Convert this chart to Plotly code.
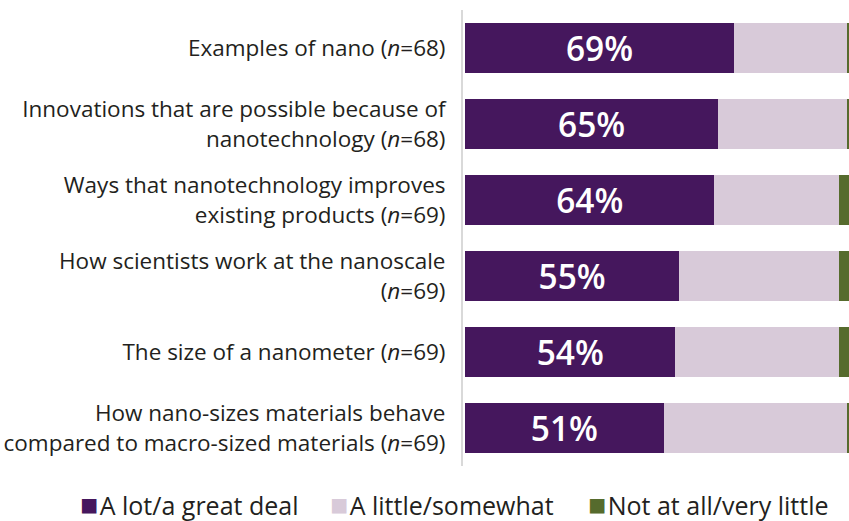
import plotly.graph_objects as go

# Survey topics, top to bottom
topics = [
    "Examples of nano (<i>n</i>=68)",
    "Innovations that are possible because of<br>nanotechnology (<i>n</i>=68)",
    "Ways that nanotechnology improves<br>existing products (<i>n</i>=69)",
    "How scientists work at the nanoscale<br>(<i>n</i>=69)",
    "The size of a nanometer (<i>n</i>=69)",
    "How nano-sizes materials behave<br>compared to macro-sized materials (<i>n</i>=69)",
]
a_lot = [69, 65, 64, 55, 54, 51]
a_little = [29, 33, 32, 41, 42, 47]
not_at_all = [2, 2, 4, 4, 4, 2]

series_names = ["A lot/a great deal", "A little/somewhat", "Not at all/very little"]
series_values = [a_lot, a_little, not_at_all]
series_colors = ["#45175d", "#d8cad9", "#566b2d"]

FONT = "Open Sans"
TEXT = "#231f20"

W, H = 849, 521
ML, MR, MT, MB = 463, 0, 10, 55

fig = go.Figure()
for i, (name, vals, color) in enumerate(zip(series_names, series_values, series_colors)):
    labelled = i == 0
    fig.add_trace(go.Bar(
        y=topics,
        x=vals,
        name=name,
        orientation="h",
        marker=dict(color=color, line=dict(width=0)),
        text=[f"{v}%" for v in vals] if labelled else None,
        textposition="inside" if labelled else "none",
        insidetextanchor="middle",
        textfont=dict(color="white", size=35, family=FONT, weight=600),
        hoverinfo="skip",
        showlegend=False,
    ))

# Legend row: coloured square followed by the series name
legend_x = [78, 328, 586]
plot_w = W - ML - MR
plot_h = H - MT - MB
for name, color, px in zip(series_names, series_colors, legend_x):
    fig.add_annotation(
        xref="paper", yref="paper",
        x=(px - ML) / plot_w, y=-(504 - (H - MB)) / plot_h,
        xanchor="left", yanchor="middle",
        showarrow=False,
        text=(f"<span style='color:{color};font-size:30px'>■</span>"
              f"<span style='font-size:6px'> </span>{name}"),
        font=dict(family=FONT, size=25, color=TEXT),
    )

fig.update_layout(
    barmode="stack",
    bargap=0.33,
    width=W,
    height=H,
    margin=dict(l=ML, r=MR, t=MT, b=MB, autoexpand=False),
    paper_bgcolor="white",
    plot_bgcolor="white",
    font=dict(family=FONT, size=22.5, color=TEXT),
    showlegend=False,
)
fig.update_xaxes(range=[-0.5, 98.5], visible=False, fixedrange=True)
fig.update_yaxes(
    autorange="reversed",
    automargin=False,
    showline=True, linecolor="#d9d9d9", linewidth=2,
    ticks="", ticklabelstandoff=11,
    showgrid=False,
)

fig.write_html("out.html")
